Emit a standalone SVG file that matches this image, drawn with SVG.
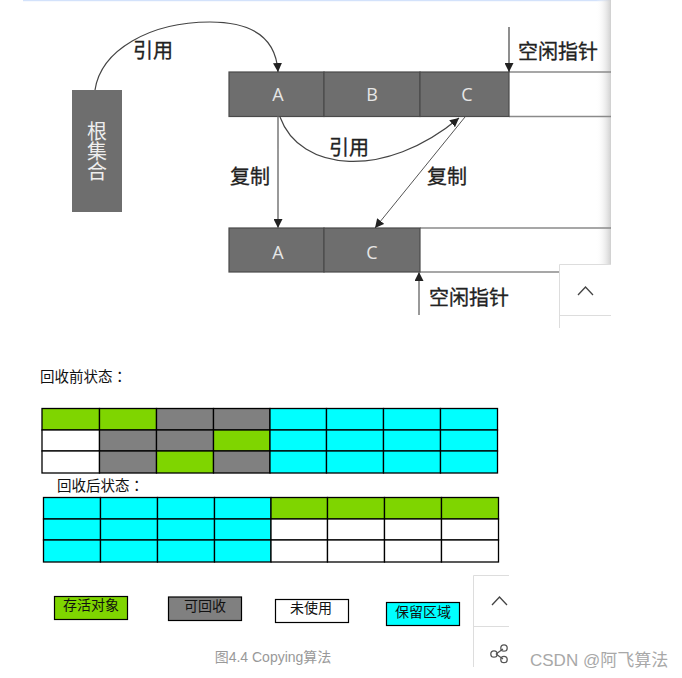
<svg xmlns="http://www.w3.org/2000/svg" width="682" height="678" viewBox="0 0 682 678">
<style>
.cell{fill:#6e6e6e;stroke:#4a4a4a;stroke-width:1.2}
.rail{stroke:#8a8a8a;stroke-width:1.5;fill:none}
.lbl{font:20px "Noto Sans CJK SC","Liberation Sans",sans-serif;fill:#222;stroke:#222;stroke-width:.3}
.ltr{font:18px "Open Sans","Liberation Sans",sans-serif;fill:#e6e6e6;text-anchor:middle}
.root{font:20px "Noto Sans CJK SC",sans-serif;fill:#eee;writing-mode:vertical-rl}
.con{fill:none;stroke:#444;stroke-width:1.2}
.t{stroke:#000;stroke-width:1.3}
.g{fill:#7fd500}.y{fill:#808080}.w{fill:#fff}.c{fill:#0ff}
.h{font:14.500px "Noto Sans CJK SC","Liberation Sans",sans-serif;fill:#111}
.col{font-family:"Noto Sans CJK TC",sans-serif}
.k{font:14px "Noto Sans CJK SC",sans-serif;fill:#111;text-anchor:middle}
.lg{stroke:#000;stroke-width:1.2}
.fb{fill:#fff;stroke:#ddd;stroke-width:1}
.ic{fill:none;stroke:#555;stroke-width:1.3}
</style>
<defs>
<marker id="ah" viewBox="0 0 10 10" refX="10" refY="5" markerWidth="9" markerHeight="9" markerUnits="userSpaceOnUse" orient="auto"><path d="M0 0L10 5L0 10Z" fill="#222"/></marker>
<linearGradient id="sh" x1="0" x2="1" y1="0" y2="0"><stop offset="0" stop-color="#fff" stop-opacity="0"/><stop offset="1" stop-color="#cfcfcf"/></linearGradient>
</defs>
<rect width="682" height="678" fill="#fff"/>
<rect id="topline" x="23" y="0" width="588" height="1.2" fill="#d3e2fb"/>
<rect x="596" y="0" width="15" height="264" fill="url(#sh)"/>

<g id="root"><rect x="72" y="90" width="50" height="122" fill="#6e6e6e"/><text class="root" x="97" y="121">根集合</text></g>
<g id="from-row">
<path class="rail" d="M509 72H611M509 116.500H611"/>
<g id="from-a"><rect class="cell" x="229" y="72" width="95" height="44.500"/><text class="ltr" x="278" y="101">A</text></g>
<g id="from-b"><rect class="cell" x="324" y="72" width="96" height="44.500"/><text class="ltr" x="372" y="101">B</text></g>
<g id="from-c"><rect class="cell" x="420" y="72" width="89" height="44.500"/><text class="ltr" x="467" y="101">C</text></g>
</g>
<g id="to-row">
<path class="rail" d="M420 228H611M420 272H559"/>
<g id="to-a"><rect class="cell" x="229" y="228" width="95" height="44"/><text class="ltr" x="278" y="259">A</text></g>
<g id="to-c"><rect class="cell" x="324" y="228" width="96" height="44"/><text class="ltr" x="372" y="259">C</text></g>
</g>
<g id="connectors">
<path class="con" marker-end="url(#ah)" d="M95 90C101 50 150 22 210 22C250 22 276 36 278 72"/>
<path class="con" marker-end="url(#ah)" d="M280 117C300 172 385 180 459 118"/>
<path class="con" style="stroke:#777;stroke-width:1.5" marker-end="url(#ah)" d="M278 116.500V228"/>
<path class="con" style="stroke:#555;stroke-width:1" marker-end="url(#ah)" d="M465 117L375 228"/>
<path class="con" marker-end="url(#ah)" d="M509 27V72"/>
<path class="con" style="stroke:#777;stroke-width:1.5" marker-end="url(#ah)" d="M419 315V272"/>
</g>
<g id="labels">
<text class="lbl" x="133" y="58">引用</text>
<text class="lbl" x="329" y="155">引用</text>
<text class="lbl" x="230" y="184">复制</text>
<text class="lbl" x="427" y="184">复制</text>
<text class="lbl" x="518" y="59">空闲指针</text>
<text class="lbl" x="429" y="305">空闲指针</text>
</g>

<g id="before">
<text class="h" x="40" y="382">回收前状态<tspan class="col">：</tspan></text>
<g class="t">
<rect class="g" x="42" y="408.500" width="57.500" height="21.500"/><rect class="g" x="99.500" y="408.500" width="57" height="21.500"/><rect class="y" x="156.500" y="408.500" width="57" height="21.500"/><rect class="y" x="213.500" y="408.500" width="56.500" height="21.500"/><rect class="c" x="270" y="408.500" width="56.500" height="21.500"/><rect class="c" x="326.500" y="408.500" width="57" height="21.500"/><rect class="c" x="383.500" y="408.500" width="57" height="21.500"/><rect class="c" x="440.500" y="408.500" width="57" height="21.500"/>
<rect class="w" x="42" y="430" width="57.500" height="21"/><rect class="y" x="99.500" y="430" width="57" height="21"/><rect class="y" x="156.500" y="430" width="57" height="21"/><rect class="g" x="213.500" y="430" width="56.500" height="21"/><rect class="c" x="270" y="430" width="56.500" height="21"/><rect class="c" x="326.500" y="430" width="57" height="21"/><rect class="c" x="383.500" y="430" width="57" height="21"/><rect class="c" x="440.500" y="430" width="57" height="21"/>
<rect class="w" x="42" y="451" width="57.500" height="22"/><rect class="y" x="99.500" y="451" width="57" height="22"/><rect class="g" x="156.500" y="451" width="57" height="22"/><rect class="y" x="213.500" y="451" width="56.500" height="22"/><rect class="c" x="270" y="451" width="56.500" height="22"/><rect class="c" x="326.500" y="451" width="57" height="22"/><rect class="c" x="383.500" y="451" width="57" height="22"/><rect class="c" x="440.500" y="451" width="57" height="22"/>
</g>
</g>
<g id="after">
<text class="h" x="57" y="491">回收后状态<tspan class="col">：</tspan></text>
<g class="t">
<rect class="c" x="43.500" y="497.500" width="57" height="21.500"/><rect class="c" x="100.500" y="497.500" width="57" height="21.500"/><rect class="c" x="157.500" y="497.500" width="57" height="21.500"/><rect class="c" x="214.500" y="497.500" width="56.500" height="21.500"/><rect class="g" x="271" y="497.500" width="56.500" height="21.500"/><rect class="g" x="327.500" y="497.500" width="57" height="21.500"/><rect class="g" x="384.500" y="497.500" width="57" height="21.500"/><rect class="g" x="441.500" y="497.500" width="57" height="21.500"/>
<rect class="c" x="43.500" y="519" width="57" height="21"/><rect class="c" x="100.500" y="519" width="57" height="21"/><rect class="c" x="157.500" y="519" width="57" height="21"/><rect class="c" x="214.500" y="519" width="56.500" height="21"/><rect class="w" x="271" y="519" width="56.500" height="21"/><rect class="w" x="327.500" y="519" width="57" height="21"/><rect class="w" x="384.500" y="519" width="57" height="21"/><rect class="w" x="441.500" y="519" width="57" height="21"/>
<rect class="c" x="43.500" y="540" width="57" height="22"/><rect class="c" x="100.500" y="540" width="57" height="22"/><rect class="c" x="157.500" y="540" width="57" height="22"/><rect class="c" x="214.500" y="540" width="56.500" height="22"/><rect class="w" x="271" y="540" width="56.500" height="22"/><rect class="w" x="327.500" y="540" width="57" height="22"/><rect class="w" x="384.500" y="540" width="57" height="22"/><rect class="w" x="441.500" y="540" width="57" height="22"/>
</g>
</g>
<g id="legend-live"><rect class="g lg" x="54.500" y="596.500" width="73" height="23"/><text class="k" x="91" y="610">存活对象</text></g>
<g id="legend-garbage"><rect class="y lg" x="168.500" y="597" width="73" height="23.500"/><text class="k" x="205" y="611">可回收</text></g>
<g id="legend-free"><rect class="w lg" x="275.500" y="599.500" width="73" height="23"/><text class="k" x="311" y="613">未使用</text></g>
<g id="legend-reserved"><rect class="c lg" x="386.500" y="602.500" width="73" height="23"/><text class="k" x="423" y="617">保留区域</text></g>
<text id="caption" x="273" y="662" text-anchor="middle" style="font:14px 'Liberation Sans','Noto Sans CJK SC',sans-serif;fill:#999">图4.4 Copying算法</text>

<g id="float-top"><path class="fb" d="M611 264.500H559.500V328M559.500 315.500H611"/><path class="ic" d="M578 295L585.500 287L593 295" style="stroke:#444"/></g>
<g id="float-bottom"><path class="fb" d="M509 575.500H473.500V667M473.500 626.500H509"/><path class="ic" d="M492 605L499.500 597L507 605" style="stroke:#444"/>
<path class="ic" d="M496 654L503 649M496 654L503 659"/><circle class="ic" cx="494" cy="654" r="3.200"/><circle class="ic" cx="504" cy="648" r="3.200"/><circle class="ic" cx="504" cy="659.500" r="3.200"/></g>
<text id="watermark" x="530" y="666" style="font:17px 'Liberation Sans','Noto Sans CJK SC',sans-serif;fill:#a8a8a8">CSDN @阿飞算法</text>
</svg>
